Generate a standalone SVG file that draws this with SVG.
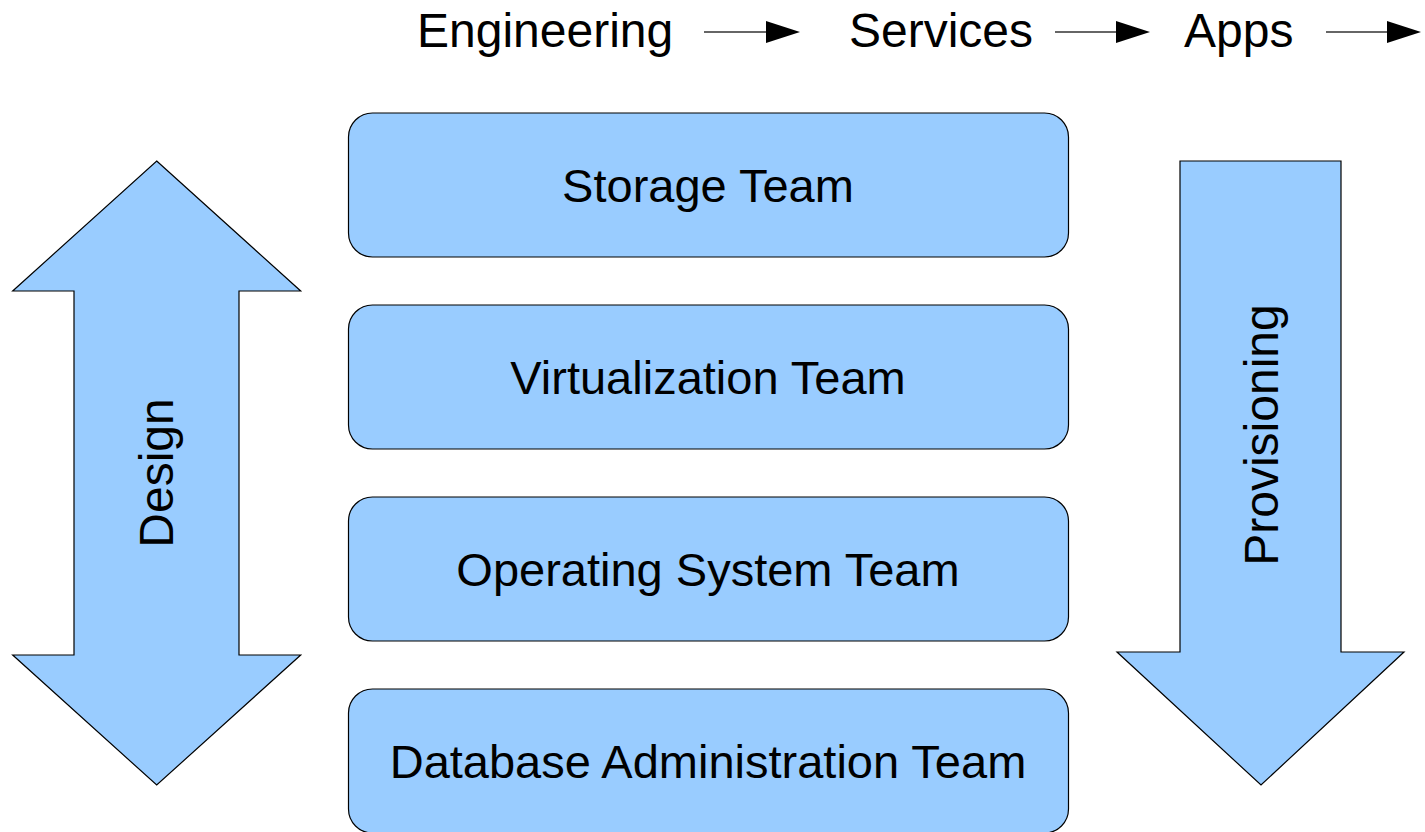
<svg xmlns="http://www.w3.org/2000/svg" width="1425" height="832" viewBox="0 0 1425 832">
<style>
.t{font-family:"Liberation Sans",Arial,sans-serif;fill:#000}
.h{font-size:48px}
.b{font-size:47px;text-anchor:middle}
.v{font-size:48px;text-anchor:middle}
.box{fill:#99ccff;stroke:#000;stroke-width:1.2}
.arr{fill:#99ccff;stroke:#000;stroke-width:1.2;stroke-linejoin:miter}
.ln{stroke:#333;stroke-width:1.5}
.hd{fill:#000}
</style>
<rect width="1425" height="832" fill="#fff"/>
<g id="header">
<text class="t h" x="417" y="47">Engineering</text>
<text class="t h" x="849" y="47">Services</text>
<text class="t h" x="1184" y="47">Apps</text>
</g>
<g id="connectors">
<line class="ln" x1="704" y1="32" x2="768" y2="32"/>
<polygon class="hd" points="766,21 800,32 766,43"/>
<line class="ln" x1="1055" y1="32" x2="1118" y2="32"/>
<polygon class="hd" points="1116,21 1150,32 1116,43"/>
<line class="ln" x1="1326" y1="32" x2="1389" y2="32"/>
<polygon class="hd" points="1387,21 1421,32 1387,43"/>
</g>
<g id="design">
<polygon class="arr" points="156.7,161 300.7,291 239,291 239,655 300.7,655 156.7,785 12.7,655 74,655 74,291 12.7,291"/>
<text class="t v" transform="translate(173,473) rotate(-90)" x="0" y="0">Design</text>
</g>
<g id="provisioning">
<polygon class="arr" points="1180,161 1341,161 1341,652 1404,652 1261,785 1117,652 1180,652"/>
<text class="t v" transform="translate(1278,435) rotate(-90)" x="0" y="0">Provisioning</text>
</g>
<g id="storage">
<rect class="box" x="348.5" y="113" width="720" height="144" rx="24"/>
<text class="t b" x="708" y="202">Storage Team</text>
</g>
<g id="virtualization">
<rect class="box" x="348.5" y="305" width="720" height="144" rx="24"/>
<text class="t b" x="708" y="394">Virtualization Team</text>
</g>
<g id="os">
<rect class="box" x="348.5" y="497" width="720" height="144" rx="24"/>
<text class="t b" x="708" y="586">Operating System Team</text>
</g>
<g id="dba">
<rect class="box" x="348.5" y="689" width="720" height="144" rx="24"/>
<text class="t b" x="708" y="778">Database Administration Team</text>
</g>
</svg>
